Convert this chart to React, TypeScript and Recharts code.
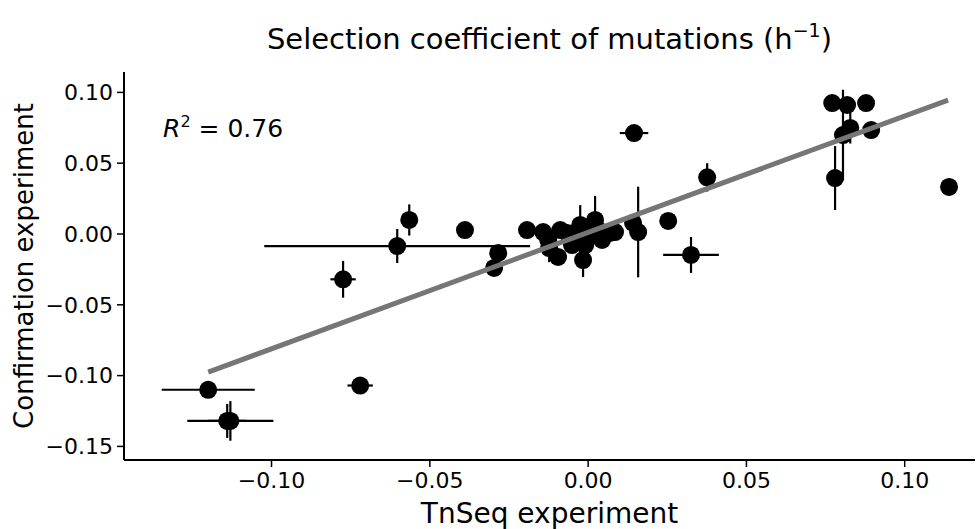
import React from "react";
import { ScatterChart, Scatter, XAxis, YAxis, ErrorBar, Label } from "recharts";

// TnSeq estimate (x) and confirmation estimate (y), with their errors
const tnseq = [
  -0.120, -0.114, -0.113, -0.072, -0.0774, -0.0603, -0.0565, -0.0389, -0.0284, -0.0297,
  -0.0193, -0.0142, -0.0126, -0.0123, -0.0088, -0.0095, -0.0051, -0.0025, 0.0022, 0.0069,
  0.0044, -0.0016, 0.0006, -0.0009, 0.0085, -0.0066, 0.0032, -0.0041, 0.0142, 0.0158,
  0.0145, 0.0376, 0.0253, 0.0325, 0.0771, 0.0818, 0.0878, 0.0828, 0.0805, 0.0894,
  0.078, 0.114,
];
const confirmation = [
  -0.110, -0.132, -0.132, -0.107, -0.032, -0.0085, 0.0099, 0.0028, -0.0134, -0.024,
  0.0028, 0.0014, -0.0042, -0.0099, 0.0028, -0.0162, -0.0078, 0.0064, 0.0099, 0.0007,
  -0.0042, -0.0184, -0.0007, -0.0078, 0.0014, 0.0007, 0.0028, -0.0028, 0.0078, 0.0014,
  0.0713, 0.04, 0.0092, -0.0148, 0.0925, 0.0911, 0.0925, 0.0749, 0.0699, 0.0734,
  0.0395, 0.0332,
];
const tnseqSE = [
  0.0147, 0.006, 0.0136, 0.004, 0.004, 0.042, 0.001, 0.002, 0.002, 0.002,
  0, 0, 0, 0, 0, 0, 0, 0, 0, 0,
  0, 0, 0, 0, 0, 0, 0, 0, 0, 0,
  0.0045, 0, 0.002, 0.0088, 0, 0, 0, 0, 0, 0,
  0, 0,
];
const confirmationSE = [
  0.005, 0.012, 0.014, 0.001, 0.013, 0.012, 0.011, 0.002, 0.003, 0.003,
  0, 0, 0, 0.01, 0, 0, 0, 0.014, 0.017, 0,
  0, 0.012, 0, 0, 0, 0, 0, 0, 0, 0.032,
  0, 0.01, 0, 0.0127, 0, 0, 0, 0.011, 0.032, 0,
  0.0226, 0.006,
];

// fitted line end points
const fitX = [-0.12, 0.1137];
const fitY = [-0.0975, 0.0946];

const xTicks = [-0.1, -0.05, 0, 0.05, 0.1];
const yTicks = [-0.15, -0.1, -0.05, 0, 0.05, 0.1];

const points = tnseq.map((x, i) => ({
  x,
  y: confirmation[i],
  xerr: tnseqSE[i],
  yerr: confirmationSE[i],
}));
const fit = fitX.map((x, i) => ({ x, y: fitY[i] }));

const font = '"DejaVu Sans", "Liberation Sans", Arial, sans-serif';
const fmt = (v: number) => v.toFixed(2).replace("-", "\u2212");

const Dot = (props: any) => <circle cx={props.cx} cy={props.cy} r={9} fill="#000" />;

export default function App() {
  return (
    <div style={{ position: "absolute", left: 0, top: 0, width: 978, height: 529, background: "#fff", fontFamily: font }}>
      <ScatterChart width={978} height={529} margin={{ top: 72, right: 3, bottom: 0, left: 0 }}>
        <XAxis
          type="number"
          dataKey="x"
          domain={[-0.1466, 0.1222]}
          ticks={xTicks}
          allowDataOverflow
          tickFormatter={fmt}
          height={69}
          tickSize={7}
          tickMargin={5}
          axisLine={{ stroke: "#000", strokeWidth: 2 }}
          tickLine={{ stroke: "#000", strokeWidth: 1.5 }}
          tick={{ fill: "#000", fontSize: 22, fontFamily: font }}
        >
          <Label value="TnSeq experiment" position="insideBottom" offset={6} fill="#000" fontSize={28} fontFamily={font} />
        </XAxis>
        <YAxis
          type="number"
          dataKey="y"
          domain={[-0.1596, 0.1144]}
          ticks={yTicks}
          allowDataOverflow
          tickFormatter={fmt}
          width={124}
          tickSize={7}
          tickMargin={4}
          axisLine={{ stroke: "#000", strokeWidth: 2 }}
          tickLine={{ stroke: "#000", strokeWidth: 1.5 }}
          tick={{ fill: "#000", fontSize: 22, fontFamily: font }}
        >
          <Label
            content={(p: any) => {
              const vb = p.viewBox || { x: 0, y: 72, height: 388 };
              const cx = vb.x + 24;
              const cy = vb.y + vb.height / 2;
              return (
                <text x={cx} y={cy} transform={`rotate(-90, ${cx}, ${cy})`} textAnchor="middle" dominantBaseline="central" fill="#000" fontSize={26} fontFamily={font}>
                  Confirmation experiment
                </text>
              );
            }}
          />
        </YAxis>
        <Scatter data={points} shape={Dot} isAnimationActive={false}>
          <ErrorBar dataKey="xerr" direction="x" width={0} stroke="#000" strokeWidth={2.2} />
          <ErrorBar dataKey="yerr" direction="y" width={0} stroke="#000" strokeWidth={2.2} />
        </Scatter>
        <Scatter data={fit} line={{ stroke: "#767676", strokeWidth: 5 }} shape={() => <g />} isAnimationActive={false} />
      </ScatterChart>
      <div style={{ position: "absolute", left: 124, width: 851, top: 25, textAlign: "center", fontSize: 29, lineHeight: 1, color: "#000", whiteSpace: "nowrap" }}>
        Selection coefficient of mutations (h
        <span style={{ fontSize: 19, position: "relative", top: -12 }}>{"\u22121"}</span>)
      </div>
      <div style={{ position: "absolute", left: 163, top: 116, fontSize: 25, lineHeight: 1, color: "#000", whiteSpace: "nowrap" }}>
        <i>R</i>
        <span style={{ fontSize: 16, position: "relative", top: -10 }}>2</span> = 0.76
      </div>
    </div>
  );
}
